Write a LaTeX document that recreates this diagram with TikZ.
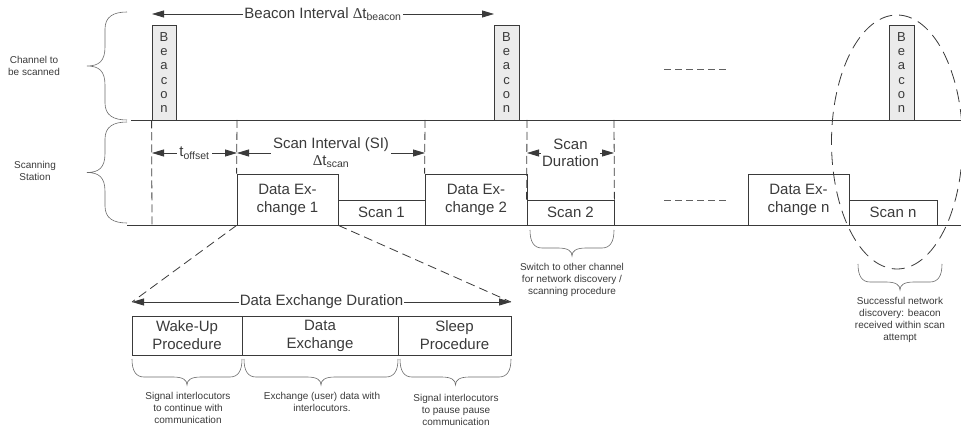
\documentclass[tikz,border=0pt]{standalone}
\usepackage{fontspec}
\setmainfont{Liberation Sans}
\newfontfamily\seriffont{Liberation Serif}
\usetikzlibrary{arrows.meta,shapes.geometric,calc}
\definecolor{ink}{HTML}{3A3A3A}
\definecolor{beaconfill}{HTML}{EBEBEB}
\newcommand\DownBrace[3]{% x1, x2, ytop
  \draw[brc] ({#1},{#3}) .. controls ({#1},{#3+12}) and ({#1+4},{#3+18}) .. ({#1+12},{#3+18})
    -- ({(#1+#2)/2-14},{#3+18}) .. controls ({(#1+#2)/2-4},{#3+18}) and ({(#1+#2)/2},{#3+21}) .. ({(#1+#2)/2},{#3+26})
    .. controls ({(#1+#2)/2},{#3+21}) and ({(#1+#2)/2+4},{#3+18}) .. ({(#1+#2)/2+14},{#3+18})
    -- ({#2-12},{#3+18}) .. controls ({#2-4},{#3+18}) and ({#2},{#3+12}) .. ({#2},{#3});}
\newcommand\LeftBrace[3]{% x, ytop, ybot
  \draw[brc] ({#1},{#2}) .. controls ({#1-14},{#2}) and ({#1-22},{#2+5}) .. ({#1-22},{#2+17})
    -- ({#1-22},{(#2+#3)/2-19}) .. controls ({#1-22},{(#2+#3)/2-5}) and ({#1-28},{(#2+#3)/2}) .. ({#1-40},{(#2+#3)/2})
    .. controls ({#1-28},{(#2+#3)/2}) and ({#1-22},{(#2+#3)/2+5}) .. ({#1-22},{(#2+#3)/2+19})
    -- ({#1-22},{#3-17}) .. controls ({#1-22},{#3-5}) and ({#1-14},{#3}) .. ({#1},{#3});}
\begin{document}
\begin{tikzpicture}[x=1pt,y=-1pt,
  every node/.style={text=ink},
  line/.style={draw=ink, line width=0.8pt},
  blk/.style={draw=ink, line width=0.8pt, inner sep=0pt, align=center, font=\fontsize{15}{18}\selectfont},
  bcn/.style={draw=ink, fill=beaconfill, line width=0.8pt, inner sep=0pt, align=center,
    minimum width=24pt, minimum height=95pt, font=\fontsize{13}{14.3}\selectfont},
  dim/.style={draw=ink, line width=0.8pt, {Triangle[length=12pt,width=7pt]}-{Triangle[length=12pt,width=7pt]}},
  lbl/.style={fill=white, inner sep=2.5pt, font=\fontsize{15}{17}\selectfont, align=center},
  guide/.style={draw=ink, line width=0.8pt, dash pattern=on 8pt off 4pt},
  zoomline/.style={draw=ink, line width=0.8pt, dash pattern=on 9pt off 5pt},
  brc/.style={draw=ink!75, line width=0.6pt},
  note/.style={font=\fontsize{10}{12}\selectfont, align=center, inner sep=0pt, anchor=north},
  side/.style={font=\fontsize{10}{12}\selectfont, align=center, inner sep=0pt},
]
\useasboundingbox (0,0) rectangle (961,435);

% time lines
\draw[line] (131,120) -- (961,120);
\draw[line] (127,225) -- (961,225);

% beacons
\node[bcn] (b1) at (164,72.5) {B\\e\\a\\c\\o\\n};
\node[bcn,minimum width=25pt] (b2) at (506.5,72.5) {B\\e\\a\\c\\o\\n};
\node[bcn,minimum width=25pt] (b3) at (901.5,72.5) {B\\e\\a\\c\\o\\n};

% station blocks
\node[blk,minimum width=101pt,minimum height=51pt] (de1) at (287.5,199.5) {Data Ex-\\change 1};
\node[blk,minimum width=87pt,minimum height=25pt] (sc1) at (381.5,212.5) {Scan 1};
\node[blk,minimum width=102pt,minimum height=51pt] (de2) at (476,199.5) {Data Ex-\\change 2};
\node[blk,minimum width=87pt,minimum height=25pt] (sc2) at (570.5,212.5) {Scan 2};
\node[blk,minimum width=101pt,minimum height=51pt] (den) at (798.5,199.5) {Data Ex-\\change n};
\node[blk,minimum width=88pt,minimum height=25pt] (scn) at (893,212.5) {Scan n};

% dashed guides
\coordinate (g1b) at (152,225);
\draw[guide] (b1.south west) -- (g1b);
\coordinate (g2t) at (237,120);
\draw[guide] (g2t) -- (de1.north west);
\coordinate (g3t) at (425,120);
\draw[guide] (g3t) -- (de2.north west);
\coordinate (g4t) at (527,120);
\draw[guide] (g4t) -- (sc2.north west);
\coordinate (g5t) at (614,120);
\draw[guide] (g5t) -- (sc2.north east);

% continuation dashes
\draw[guide, draw=ink!80, dash pattern=on 7pt off 4pt] (664,69) -- (727,69);
\draw[guide, draw=ink!80, dash pattern=on 7pt off 4pt] (664,200) -- (727,200);

% dimension arrows
\coordinate (bi1) at (152,14);
\coordinate (bi2) at (494,14);
\draw[dim] (bi1) -- node[lbl, inner sep=1pt] {Beacon Interval {\seriffont Δ}t\textsubscript{beacon}} (bi2);
\coordinate (to1) at (152,153);
\coordinate (to2) at (237,153);
\draw[dim] (to1) -- node[lbl] {t\textsubscript{offset}} (to2);
\coordinate (si2) at (425,153);
\draw[dim] (to2) -- node[lbl] {Scan Interval (SI)\\{\seriffont Δ}t\textsubscript{scan}} (si2);
\coordinate (sd1) at (527,153);
\coordinate (sd2) at (614,153);
\draw[dim] (sd1) -- node[lbl, inner sep=1pt] {Scan\\Duration} (sd2);

% successful discovery ellipse
\node[draw=ink, line width=0.8pt, dash pattern=on 13pt off 7pt, ellipse, inner sep=0pt,
  minimum width=131pt, minimum height=254pt] (ell) at (897,142) {};

% side labels and braces
\node[side] (ch) at (34,66) {Channel to\\be scanned};
\node[side] (ss) at (35,171) {Scanning\\Station};
\LeftBrace{127}{12}{120}
\LeftBrace{127}{122}{223}

% zoomed data exchange
\coordinate (dd1) at (132,302);
\coordinate (dd2) at (511,302);
\draw[zoomline] (de1.south west) -- (dd1);
\draw[zoomline] (de1.south east) -- (dd2);
\draw[dim] (dd1) -- node[lbl, inner sep=1pt] {Data Exchange Duration} (dd2);

\node[blk,minimum width=110pt,minimum height=39pt] (wu) at (187,335.5) {Wake-Up\\Procedure};
\node[blk,minimum width=156pt,minimum height=39pt] (dx) at (320,335.5) {Data\\Exchange};
\node[blk,minimum width=113pt,minimum height=39pt] (sl) at (454.5,335.5) {Sleep\\Procedure};

% braces and notes
\DownBrace{132}{242}{359}
\DownBrace{244}{398}{359}
\DownBrace{400}{511}{359}
\node[note] (n1) at (188,392) {Signal interlocutors\\to continue with\\communication};
\node[note] (n2) at (322,392) {Exchange (user) data with\\interlocutors.};
\node[note] (n3) at (456,394) {Signal interlocutors\\to pause pause\\communication};

\DownBrace{530}{614}{230}
\node[note] (n4) at (572,263) {Switch to other channel\\for network discovery /\\scanning procedure};
\DownBrace{858}{942}{264}
\node[note] (n5) at (900,297) {Successful network\\discovery: beacon\\received within scan\\attempt};
\end{tikzpicture}
\end{document}
